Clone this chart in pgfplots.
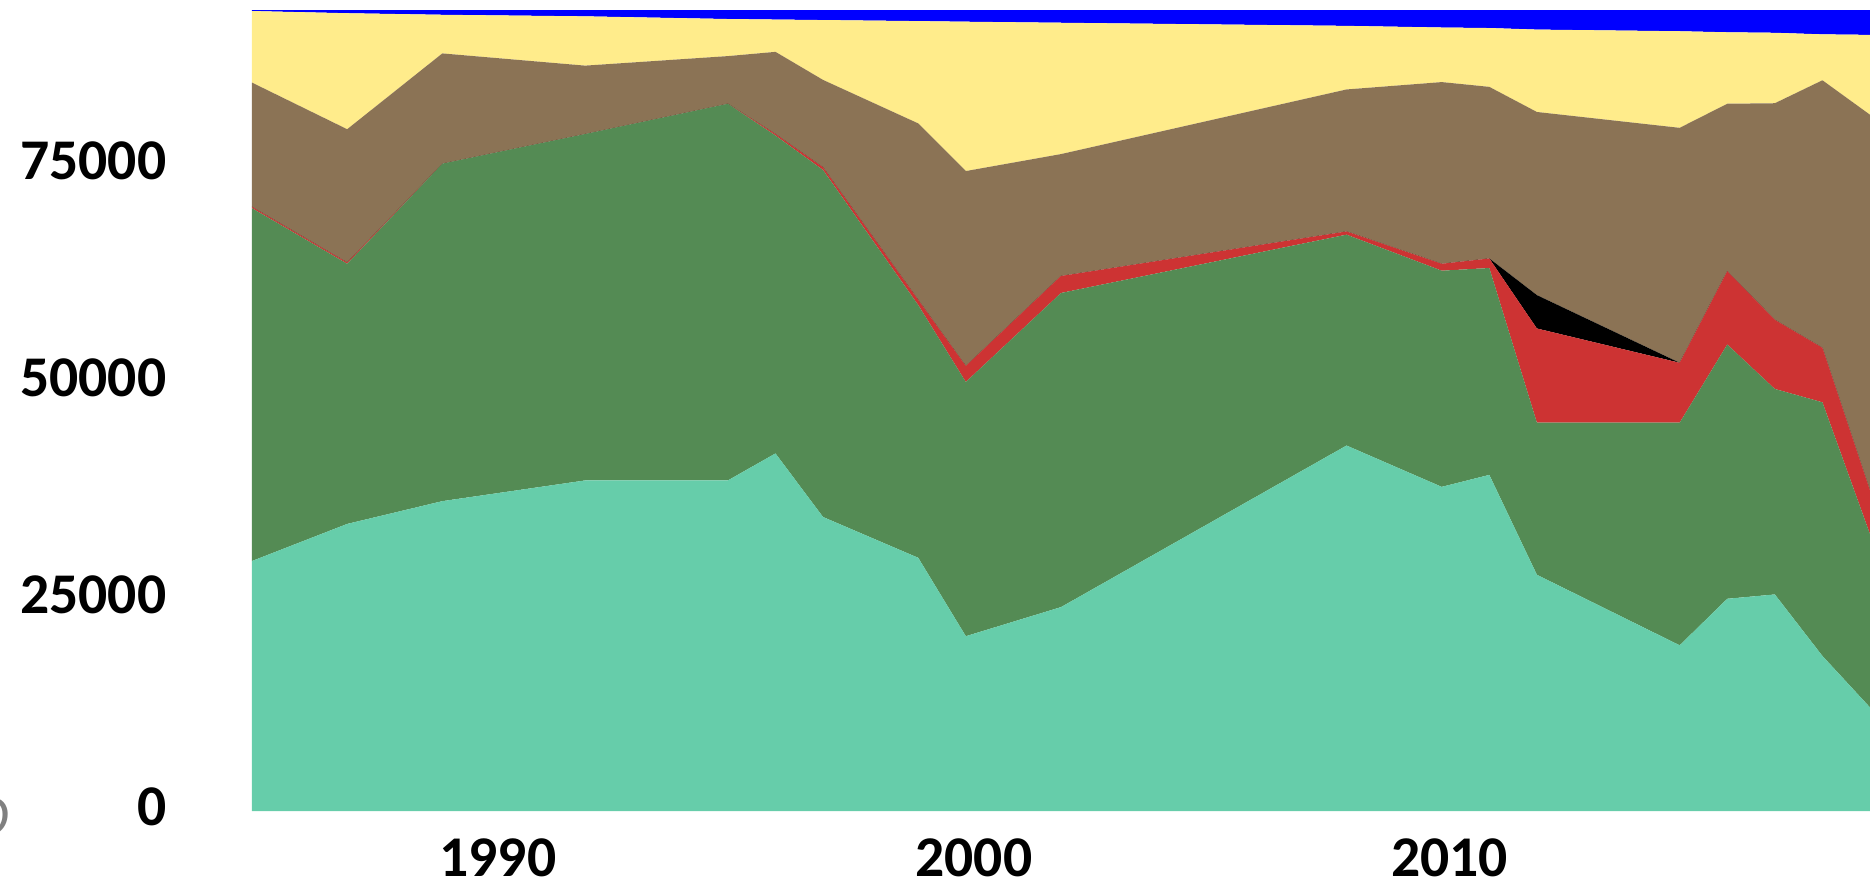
\documentclass[border=0pt]{standalone}
\usepackage{fontspec}
\setmainfont{Carlito}
\usepackage{pgfplots}
\usepackage{pgfplotstable}
\pgfplotsset{compat=1.18}

\definecolor{cteal}{RGB}{102,205,170}
\definecolor{cgreen}{RGB}{84,139,84}
\definecolor{cred}{RGB}{205,51,51}
\definecolor{cbrown}{RGB}{139,115,85}
\definecolor{cyellow}{RGB}{255,236,139}
\definecolor{cblue}{RGB}{0,0,255}

% stacked layers, one column per source
\pgfplotstableread{
year teal  green red   black brown yellow blue
1985 28860 40730 150   0     14340 8260   150
1987 33140 30030 150   0     15380 13390  420
1989 35770 38960 0     0     12720 4460   580
1992 38160 39990 0     0     7890  5690   760
1995 38160 43480 0     0     5500  4280   1060
1996 41280 36690 180   0     9480  3730   1120
1997 33940 40050 310   0     10090 6910   1180
1999 29230 29170 600   0     20370 11810  1300
2000 20180 29350 1840  0     22500 17240  1370
2002 23540 36260 1960  0     14070 15160  1490
2008 42190 24340 370   0     16390 7340   1850
2010 37420 24950 800   0     20970 6300   2040
2011 38800 23880 1100  0     19810 6790   2100
2012 27270 17560 10870 3850  21140 9510   2280
2015 19130 25700 6910  0     27120 11150  2470
2016 24500 29350 8460  0     19330 8250   2590
2017 25000 23720 7980  0     25000 8130   2650
2018 17900 29280 6290  0     30880 5300   2830
2019 11960 19990 5050  0     43370 9220   2900
}\data

\begin{document}
\begin{tikzpicture}
\begin{axis}[
  width=404.5pt, height=200.25pt, scale only axis,
  xmin=1985, xmax=2019, ymin=0, ymax=92460,
  stack plots=y,
  axis line style={draw=none},
  tick style={draw=none},
  xtick={1990,2000,2010}, xticklabels={1990,2000,2010},
  ytick={0,25000,50000,75000}, yticklabels={\raisebox{2.2pt}{0},25000,50000,75000},
  ticklabel style={font=\fontsize{14.4}{17}\selectfont\bfseries, inner sep=0pt},
  xticklabel style={anchor=north, yshift=-6.75pt, xshift=2pt},
  yticklabel style={anchor=east, xshift=-21.25pt},
]
\addplot[draw=none, fill=cteal] table[x=year, y=teal] {\data} \closedcycle;
\addplot[draw=none, fill=cgreen] table[x=year, y=green] {\data} \closedcycle;
\addplot[draw=none, fill=cred] table[x=year, y=red] {\data} \closedcycle;
\addplot[draw=none, fill=black] table[x=year, y=black] {\data} \closedcycle;
\addplot[draw=none, fill=cbrown] table[x=year, y=brown] {\data} \closedcycle;
\addplot[draw=none, fill=cyellow] table[x=year, y=yellow] {\data} \closedcycle;
\addplot[draw=none, fill=cblue] table[x=year, y=blue] {\data} \closedcycle;
\coordinate (sw) at (rel axis cs:0,0);
\coordinate (ne) at (rel axis cs:1,1);
\end{axis}
\node[anchor=east, inner sep=0pt, text=gray, font=\fontsize{14.4}{17}\selectfont\itshape]
  at ([xshift=-60.5pt, yshift=-1.5pt]sw) {O};
\pgfresetboundingbox
\path[use as bounding box] ([xshift=-63pt, yshift=-18.75pt]sw) rectangle ([yshift=2.5pt]ne);
\end{tikzpicture}
\end{document}
